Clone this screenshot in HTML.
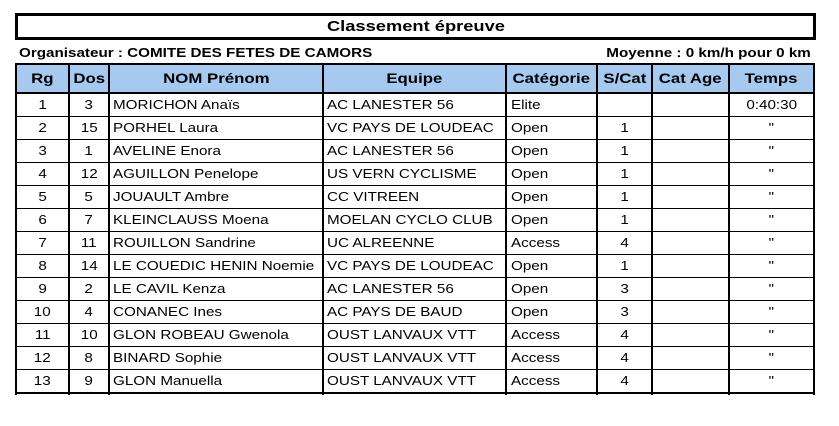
<!DOCTYPE html>
<html>
<head>
<meta charset="utf-8">
<style>
  html,body{margin:0;padding:0;background:#fff;}
  body{width:839px;height:426px;position:relative;overflow:hidden;font-family:"Liberation Sans",Arial,sans-serif;color:#000;}
  .hl{position:absolute;background:#000;}
  .vl{position:absolute;background:#000;width:2px;top:63px;height:332px;}
  .r{position:absolute;left:0;width:839px;height:22px;line-height:21px;font-size:13px;}
  .c{position:absolute;top:0;text-align:center;white-space:nowrap;}
  .c span{display:inline-block;transform:scaleX(1.17);}
  .l{position:absolute;top:0;white-space:nowrap;}
  .l span{display:inline-block;transform:scaleX(1.17);transform-origin:0 50%;}
  .h{position:absolute;left:0;width:839px;top:65px;height:27px;line-height:27px;font-size:14px;font-weight:bold;}
  .h .c span{transform:scaleX(1.2);}
</style>
</head>
<body>
<!-- Title box -->
<div style="position:absolute;left:15px;top:13px;width:795px;height:21px;border:3px solid #000;"></div>
<div style="position:absolute;left:15px;top:13px;width:801px;height:27px;line-height:27px;text-align:center;font-size:15px;font-weight:bold;"><span style="display:inline-block;transform:scaleX(1.22);">Classement épreuve</span></div>

<!-- Sub header -->
<div style="position:absolute;left:19px;top:45px;height:15px;line-height:15px;font-size:13px;font-weight:bold;white-space:nowrap;"><span style="display:inline-block;transform:scaleX(1.17);transform-origin:0 50%;">Organisateur : COMITE DES FETES DE CAMORS</span></div>
<div style="position:absolute;right:28px;top:45px;height:15px;line-height:15px;font-size:13px;font-weight:bold;white-space:nowrap;"><span style="display:inline-block;transform:scaleX(1.17);transform-origin:100% 50%;">Moyenne : 0 km/h pour 0 km</span></div>

<!-- header background -->
<div style="position:absolute;left:17px;top:65px;width:796px;height:27px;background:#a6c9f0;"></div>

<!-- horizontal lines -->
<div class="hl" style="left:15px;top:63px;width:800px;height:2px;"></div>
<div class="hl" style="left:15px;top:92px;width:800px;height:2px;"></div>
<div class="hl" style="left:15px;top:116px;width:800px;height:1px;"></div>
<div class="hl" style="left:15px;top:139px;width:800px;height:1px;"></div>
<div class="hl" style="left:15px;top:162px;width:800px;height:1px;"></div>
<div class="hl" style="left:15px;top:185px;width:800px;height:1px;"></div>
<div class="hl" style="left:15px;top:208px;width:800px;height:1px;"></div>
<div class="hl" style="left:15px;top:231px;width:800px;height:1px;"></div>
<div class="hl" style="left:15px;top:254px;width:800px;height:1px;"></div>
<div class="hl" style="left:15px;top:277px;width:800px;height:1px;"></div>
<div class="hl" style="left:15px;top:300px;width:800px;height:1px;"></div>
<div class="hl" style="left:15px;top:323px;width:800px;height:1px;"></div>
<div class="hl" style="left:15px;top:346px;width:800px;height:1px;"></div>
<div class="hl" style="left:15px;top:369px;width:800px;height:1px;"></div>
<div class="hl" style="left:15px;top:392px;width:800px;height:2px;"></div>

<!-- vertical lines -->
<div class="vl" style="left:15px;"></div>
<div class="vl" style="left:68px;"></div>
<div class="vl" style="left:108px;"></div>
<div class="vl" style="left:322px;"></div>
<div class="vl" style="left:505px;"></div>
<div class="vl" style="left:596px;"></div>
<div class="vl" style="left:651px;"></div>
<div class="vl" style="left:728px;"></div>
<div class="vl" style="left:813px;"></div>

<!-- header text -->
<div class="h">
  <div class="c" style="left:17px;width:51px;"><span>Rg</span></div>
  <div class="c" style="left:70px;width:38px;"><span>Dos</span></div>
  <div class="c" style="left:110px;width:212px;"><span>NOM Prénom</span></div>
  <div class="c" style="left:324px;width:181px;"><span>Equipe</span></div>
  <div class="c" style="left:507px;width:89px;"><span>Catégorie</span></div>
  <div class="c" style="left:598px;width:53px;"><span>S/Cat</span></div>
  <div class="c" style="left:653px;width:75px;"><span>Cat Age</span></div>
  <div class="c" style="left:730px;width:83px;"><span>Temps</span></div>
</div>

<!-- rows -->
<div class="r" style="top:94px;">
  <div class="c" style="left:17px;width:51px;"><span>1</span></div>
  <div class="c" style="left:70px;width:38px;"><span>3</span></div>
  <div class="l" style="left:113px;"><span>MORICHON Anaïs</span></div>
  <div class="l" style="left:327px;"><span>AC LANESTER 56</span></div>
  <div class="l" style="left:511px;"><span>Elite</span></div>
  <div class="c" style="left:730px;width:83px;"><span>0:40:30</span></div>
</div>
<div class="r" style="top:117px;">
  <div class="c" style="left:17px;width:51px;"><span>2</span></div>
  <div class="c" style="left:70px;width:38px;"><span>15</span></div>
  <div class="l" style="left:113px;"><span>PORHEL Laura</span></div>
  <div class="l" style="left:327px;"><span>VC PAYS DE LOUDEAC</span></div>
  <div class="l" style="left:511px;"><span>Open</span></div>
  <div class="c" style="left:598px;width:53px;"><span>1</span></div>
  <div class="c" style="left:730px;width:83px;"><span>"</span></div>
</div>
<div class="r" style="top:140px;">
  <div class="c" style="left:17px;width:51px;"><span>3</span></div>
  <div class="c" style="left:70px;width:38px;"><span>1</span></div>
  <div class="l" style="left:113px;"><span>AVELINE Enora</span></div>
  <div class="l" style="left:327px;"><span>AC LANESTER 56</span></div>
  <div class="l" style="left:511px;"><span>Open</span></div>
  <div class="c" style="left:598px;width:53px;"><span>1</span></div>
  <div class="c" style="left:730px;width:83px;"><span>"</span></div>
</div>
<div class="r" style="top:163px;">
  <div class="c" style="left:17px;width:51px;"><span>4</span></div>
  <div class="c" style="left:70px;width:38px;"><span>12</span></div>
  <div class="l" style="left:113px;"><span>AGUILLON Penelope</span></div>
  <div class="l" style="left:327px;"><span>US VERN CYCLISME</span></div>
  <div class="l" style="left:511px;"><span>Open</span></div>
  <div class="c" style="left:598px;width:53px;"><span>1</span></div>
  <div class="c" style="left:730px;width:83px;"><span>"</span></div>
</div>
<div class="r" style="top:186px;">
  <div class="c" style="left:17px;width:51px;"><span>5</span></div>
  <div class="c" style="left:70px;width:38px;"><span>5</span></div>
  <div class="l" style="left:113px;"><span>JOUAULT Ambre</span></div>
  <div class="l" style="left:327px;"><span>CC VITREEN</span></div>
  <div class="l" style="left:511px;"><span>Open</span></div>
  <div class="c" style="left:598px;width:53px;"><span>1</span></div>
  <div class="c" style="left:730px;width:83px;"><span>"</span></div>
</div>
<div class="r" style="top:209px;">
  <div class="c" style="left:17px;width:51px;"><span>6</span></div>
  <div class="c" style="left:70px;width:38px;"><span>7</span></div>
  <div class="l" style="left:113px;"><span>KLEINCLAUSS Moena</span></div>
  <div class="l" style="left:327px;"><span>MOELAN CYCLO CLUB</span></div>
  <div class="l" style="left:511px;"><span>Open</span></div>
  <div class="c" style="left:598px;width:53px;"><span>1</span></div>
  <div class="c" style="left:730px;width:83px;"><span>"</span></div>
</div>
<div class="r" style="top:232px;">
  <div class="c" style="left:17px;width:51px;"><span>7</span></div>
  <div class="c" style="left:70px;width:38px;"><span>11</span></div>
  <div class="l" style="left:113px;"><span>ROUILLON Sandrine</span></div>
  <div class="l" style="left:327px;"><span>UC ALREENNE</span></div>
  <div class="l" style="left:511px;"><span>Access</span></div>
  <div class="c" style="left:598px;width:53px;"><span>4</span></div>
  <div class="c" style="left:730px;width:83px;"><span>"</span></div>
</div>
<div class="r" style="top:255px;">
  <div class="c" style="left:17px;width:51px;"><span>8</span></div>
  <div class="c" style="left:70px;width:38px;"><span>14</span></div>
  <div class="l" style="left:113px;"><span>LE COUEDIC HENIN Noemie</span></div>
  <div class="l" style="left:327px;"><span>VC PAYS DE LOUDEAC</span></div>
  <div class="l" style="left:511px;"><span>Open</span></div>
  <div class="c" style="left:598px;width:53px;"><span>1</span></div>
  <div class="c" style="left:730px;width:83px;"><span>"</span></div>
</div>
<div class="r" style="top:278px;">
  <div class="c" style="left:17px;width:51px;"><span>9</span></div>
  <div class="c" style="left:70px;width:38px;"><span>2</span></div>
  <div class="l" style="left:113px;"><span>LE CAVIL Kenza</span></div>
  <div class="l" style="left:327px;"><span>AC LANESTER 56</span></div>
  <div class="l" style="left:511px;"><span>Open</span></div>
  <div class="c" style="left:598px;width:53px;"><span>3</span></div>
  <div class="c" style="left:730px;width:83px;"><span>"</span></div>
</div>
<div class="r" style="top:301px;">
  <div class="c" style="left:17px;width:51px;"><span>10</span></div>
  <div class="c" style="left:70px;width:38px;"><span>4</span></div>
  <div class="l" style="left:113px;"><span>CONANEC Ines</span></div>
  <div class="l" style="left:327px;"><span>AC PAYS DE BAUD</span></div>
  <div class="l" style="left:511px;"><span>Open</span></div>
  <div class="c" style="left:598px;width:53px;"><span>3</span></div>
  <div class="c" style="left:730px;width:83px;"><span>"</span></div>
</div>
<div class="r" style="top:324px;">
  <div class="c" style="left:17px;width:51px;"><span>11</span></div>
  <div class="c" style="left:70px;width:38px;"><span>10</span></div>
  <div class="l" style="left:113px;"><span>GLON ROBEAU Gwenola</span></div>
  <div class="l" style="left:327px;"><span>OUST LANVAUX VTT</span></div>
  <div class="l" style="left:511px;"><span>Access</span></div>
  <div class="c" style="left:598px;width:53px;"><span>4</span></div>
  <div class="c" style="left:730px;width:83px;"><span>"</span></div>
</div>
<div class="r" style="top:347px;">
  <div class="c" style="left:17px;width:51px;"><span>12</span></div>
  <div class="c" style="left:70px;width:38px;"><span>8</span></div>
  <div class="l" style="left:113px;"><span>BINARD Sophie</span></div>
  <div class="l" style="left:327px;"><span>OUST LANVAUX VTT</span></div>
  <div class="l" style="left:511px;"><span>Access</span></div>
  <div class="c" style="left:598px;width:53px;"><span>4</span></div>
  <div class="c" style="left:730px;width:83px;"><span>"</span></div>
</div>
<div class="r" style="top:370px;">
  <div class="c" style="left:17px;width:51px;"><span>13</span></div>
  <div class="c" style="left:70px;width:38px;"><span>9</span></div>
  <div class="l" style="left:113px;"><span>GLON Manuella</span></div>
  <div class="l" style="left:327px;"><span>OUST LANVAUX VTT</span></div>
  <div class="l" style="left:511px;"><span>Access</span></div>
  <div class="c" style="left:598px;width:53px;"><span>4</span></div>
  <div class="c" style="left:730px;width:83px;"><span>"</span></div>
</div>
</body>
</html>
